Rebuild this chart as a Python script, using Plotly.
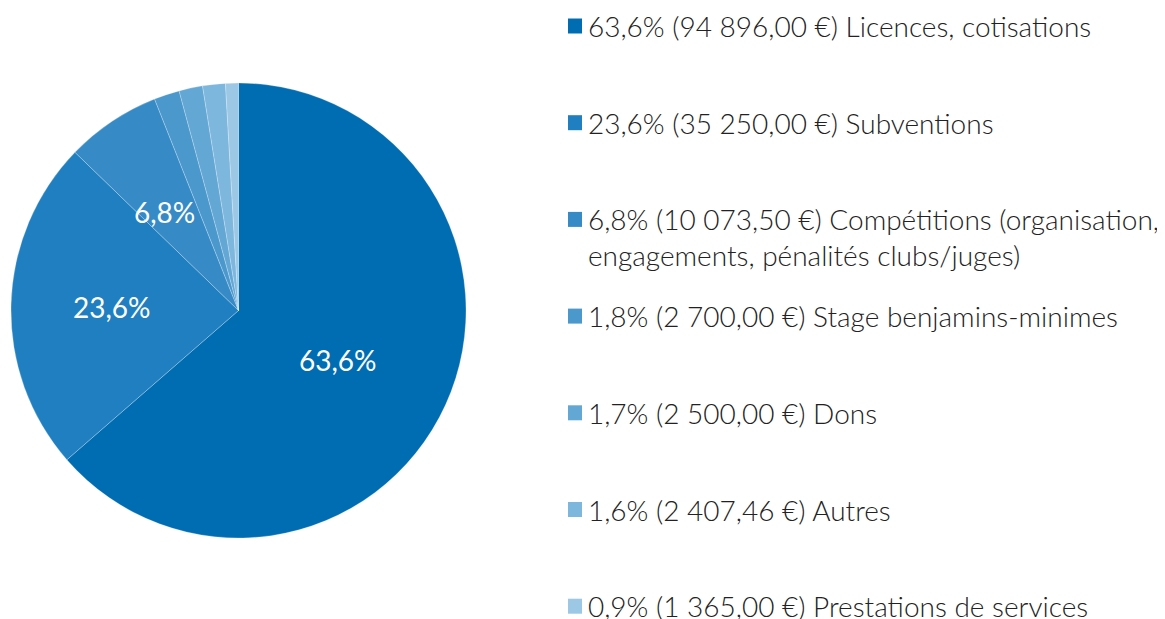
import math
import plotly.graph_objects as go

W, H = 1165, 619
OFF = 8  # the page body margin shifts the figure by 8 px

categories = [
    "Licences, cotisations",
    "Subventions",
    "Compétitions (organisation,<br>engagements, pénalités clubs/juges)",
    "Stage benjamins-minimes",
    "Dons",
    "Autres",
    "Prestations de services",
]
amounts = [94896.00, 35250.00, 10073.50, 2700.00, 2500.00, 2407.46, 1365.00]
pct_labels = ["63,6%", "23,6%", "6,8%", "1,8%", "1,7%", "1,6%", "0,9%"]
amount_labels = ["94 896,00 €", "35 250,00 €", "10 073,50 €", "2 700,00 €",
                 "2 500,00 €", "2 407,46 €", "1 365,00 €"]
colors = ["#006db3", "#1f7fc0", "#368bc6", "#4b98cd", "#63a7d4", "#7eb7dd", "#9dc8e5"]

FONT = "Lato Light, Lato"


def px(x, y):
    """screen pixel -> paper coords"""
    return (x - OFF) / W, 1 - (y - OFF) / H


# pie box on screen
L, R, T, B = 11, 466, 83, 538
x0, y1 = px(L, T)
x1, y0 = px(R, B)

pie = go.Pie(
    labels=[c.replace("<br>", " ") for c in categories],
    values=amounts,
    textinfo="none",
    marker=dict(colors=colors, line=dict(color="rgba(255,255,255,0.6)", width=0.4)),
    sort=False,
    direction="clockwise",
    rotation=0,
    showlegend=False,
    hoverinfo="label+value+percent",
    domain=dict(x=[x0, x1], y=[y0, y1]),
)

fig = go.Figure(pie)

annotations, shapes = [], []

# percentage labels inside the bigger slices, at about half the radius
cx, cy, rad = (L + R) / 2, (T + B) / 2, (R - L) / 2
total = sum(amounts)
cum = 0
for pct, a in zip(pct_labels, amounts):
    mid = (cum + a / 2) / total
    cum += a
    if a / total < 0.05:
        continue
    ang = 2 * math.pi * mid
    lx = cx + 0.52 * rad * math.sin(ang)
    ly = cy - 0.52 * rad * math.cos(ang)
    ax, ay = px(lx, ly)
    annotations.append(dict(
        xref="paper", yref="paper", x=ax, y=ay, xshift=-8,
        xanchor="center", yanchor="middle", text=pct, showarrow=False,
        font=dict(family="Lato", size=28, color="white"),
    ))

# hand-made legend on the right
for i, (cat, pct, amt, col) in enumerate(zip(categories, pct_labels, amount_labels, colors)):
    row_y = 26 + i * 96.7
    nlines = cat.count("<br>") + 1
    sx0, sy1 = px(568, row_y - 7.5)
    sx1, sy0 = px(582, row_y + 7.5)
    shapes.append(dict(
        type="rect", xref="paper", yref="paper",
        x0=sx0, x1=sx1, y0=sy0, y1=sy1,
        fillcolor=col, line=dict(width=0),
    ))
    tx, ty = px(586, row_y + (nlines - 1) * 18)
    annotations.append(dict(
        xref="paper", yref="paper", x=tx, y=ty,
        xanchor="left", yanchor="middle", align="left",
        text=f"{pct} ({amt}) {cat}",
        showarrow=False,
        font=dict(family=FONT, size=28, color="#222222", weight=300),
    ))

fig.update_layout(
    width=W, height=H,
    margin=dict(l=0, r=0, t=0, b=0),
    paper_bgcolor="white",
    plot_bgcolor="white",
    annotations=annotations,
    shapes=shapes,
)

fig.write_html("out.html")
